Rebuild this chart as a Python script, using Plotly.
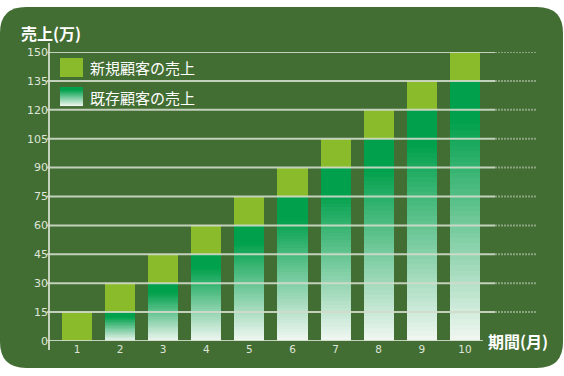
import plotly.graph_objects as go

# ---- data ----
months = [1, 2, 3, 4, 5, 6, 7, 8, 9, 10]
new_sales = [15, 15, 15, 15, 15, 15, 15, 15, 15, 15]
existing_sales = [0, 15, 30, 45, 60, 75, 90, 105, 120, 135]
y_ticks = [0, 15, 30, 45, 60, 75, 90, 105, 120, 135, 150]
legend_labels = ["新規顧客の売上", "既存顧客の売上"]
y_title = "売上(万)"
x_title = "期間(月)"

# ---- layout geometry (pixels) ----
W, H = 564, 376
L, R, T, B = 49, 27, 52, 35
PW, PH = W - L - R, H - T - B
X0 = 1 - 28 / 43.1
X1 = X0 + PW / 43.1

def px(x):
    return (x - L) / PW

def py(y):
    return (H - B - y) / PH

NEW_C = "#8abb2b"
G = (0, 160, 76)
WH = (242, 247, 242)
BG = "#436e33"
GRID = "rgba(210,218,203,0.9)"
FONT = "Noto Sans CJK JP"

def grad(f):
    t = max(0.0, min(1.0, (f - 0.15) / 0.85))
    c = [round(G[i] + (WH[i] - G[i]) * t) for i in range(3)]
    return "rgb(%d,%d,%d)" % tuple(c)

fig = go.Figure()
N = 48
for k in range(N):
    # k = 0 is bottom slice
    f = 1 - (k + 0.5) / N
    fig.add_trace(go.Bar(
        x=months, y=[v / N for v in existing_sales], width=0.7,
        marker=dict(color=grad(f), line=dict(width=0)),
        showlegend=False, hoverinfo="skip"))
fig.add_trace(go.Bar(
    x=months, y=new_sales, width=0.7, name=legend_labels[0],
    marker=dict(color=NEW_C, line=dict(width=0)), showlegend=False))

shapes = []
# rounded background
x0, x1, y0, y1, r = 0, 563, 7, 368, 26
pts = [
    ("M", [(x0 + r, y0)]),
    ("L", [(x1 - r, y0)]),
    ("Q", [(x1, y0), (x1, y0 + r)]),
    ("L", [(x1, y1 - r)]),
    ("Q", [(x1, y1), (x1 - r, y1)]),
    ("L", [(x0 + r, y1)]),
    ("Q", [(x0, y1), (x0, y1 - r)]),
    ("L", [(x0, y0 + r)]),
    ("Q", [(x0, y0), (x0 + r, y0)]),
]
path = ""
for cmd, ps in pts:
    path += cmd + " " + " ".join("%.5f,%.5f" % (px(a), py(b)) for a, b in ps) + " "
path += "Z"
shapes.append(dict(type="path", path=path, xref="paper", yref="paper",
                   fillcolor=BG, line=dict(width=0), layer="below"))

# gridlines above bars
for v in y_ticks:
    if v == 0:
        shapes.append(dict(type="line", xref="paper", yref="y", x0=px(47), x1=px(483),
                           y0=v, y1=v, line=dict(color=GRID, width=2), layer="above"))
    else:
        shapes.append(dict(type="line", xref="paper", yref="y", x0=px(47), x1=px(495),
                           y0=v, y1=v, line=dict(color=GRID, width=2), layer="above"))
        shapes.append(dict(type="line", xref="paper", yref="y", x0=px(495), x1=px(537),
                           y0=v, y1=v, line=dict(color="rgba(210,218,203,0.5)", width=2,
                                                 dash="2px,1px"),
                           layer="above"))
# y axis line
shapes.append(dict(type="line", xref="paper", yref="paper", x0=0, x1=0,
                   y0=py(350), y1=py(43), line=dict(color=GRID, width=2), layer="above"))

# legend swatches
shapes.append(dict(type="rect", xref="paper", yref="paper", x0=px(60), x1=px(83),
                   y0=py(77), y1=py(58), fillcolor=NEW_C, line=dict(width=0), layer="above"))
n = 19
for i in range(n):
    f = (i + 0.5) / n
    shapes.append(dict(type="rect", xref="paper", yref="paper", x0=px(60), x1=px(83),
                       y0=py(87 + i + 1.05), y1=py(87 + i), fillcolor=grad(f * 1.0),
                       line=dict(width=0), layer="above"))

annotations = [
    dict(text=legend_labels[0], x=px(88), y=py(68), xref="paper", yref="paper",
         xanchor="left", yanchor="middle", showarrow=False,
         font=dict(family=FONT, size=15, color="white")),
    dict(text=legend_labels[1], x=px(88), y=py(97), xref="paper", yref="paper",
         xanchor="left", yanchor="middle", showarrow=False,
         font=dict(family=FONT, size=15, color="white")),
    dict(text="<b>" + y_title + "</b>", x=px(19), y=py(33), xref="paper", yref="paper",
         xanchor="left", yanchor="middle", showarrow=False,
         font=dict(family=FONT, size=16, color="white")),
    dict(text="<b>" + x_title + "</b>", x=px(486), y=py(341), xref="paper", yref="paper",
         xanchor="left", yanchor="middle", showarrow=False,
         font=dict(family=FONT, size=16, color="white")),
]

fig.update_layout(
    width=W, height=H, margin=dict(l=L, r=R, t=T, b=B),
    paper_bgcolor="white", plot_bgcolor="rgba(0,0,0,0)",
    barmode="stack", bargap=0, showlegend=False,
    shapes=shapes, annotations=annotations,
    xaxis=dict(range=[X0, X1], tickvals=months, ticktext=[str(m) for m in months],
               showgrid=False, zeroline=False, showline=False, ticks="",
               tickfont=dict(family="DejaVu Sans", size=10.5, color="#dfe5da")),
    yaxis=dict(range=[0, 150], tickvals=y_ticks, showgrid=False, zeroline=False,
               showline=False, ticks="",
               tickfont=dict(family="DejaVu Sans", size=11, color="#dfe5da")),
)

fig.write_html("out.html", config={"displayModeBar": False},
               post_script="document.body.style.margin='0';document.body.style.overflow='hidden';")
